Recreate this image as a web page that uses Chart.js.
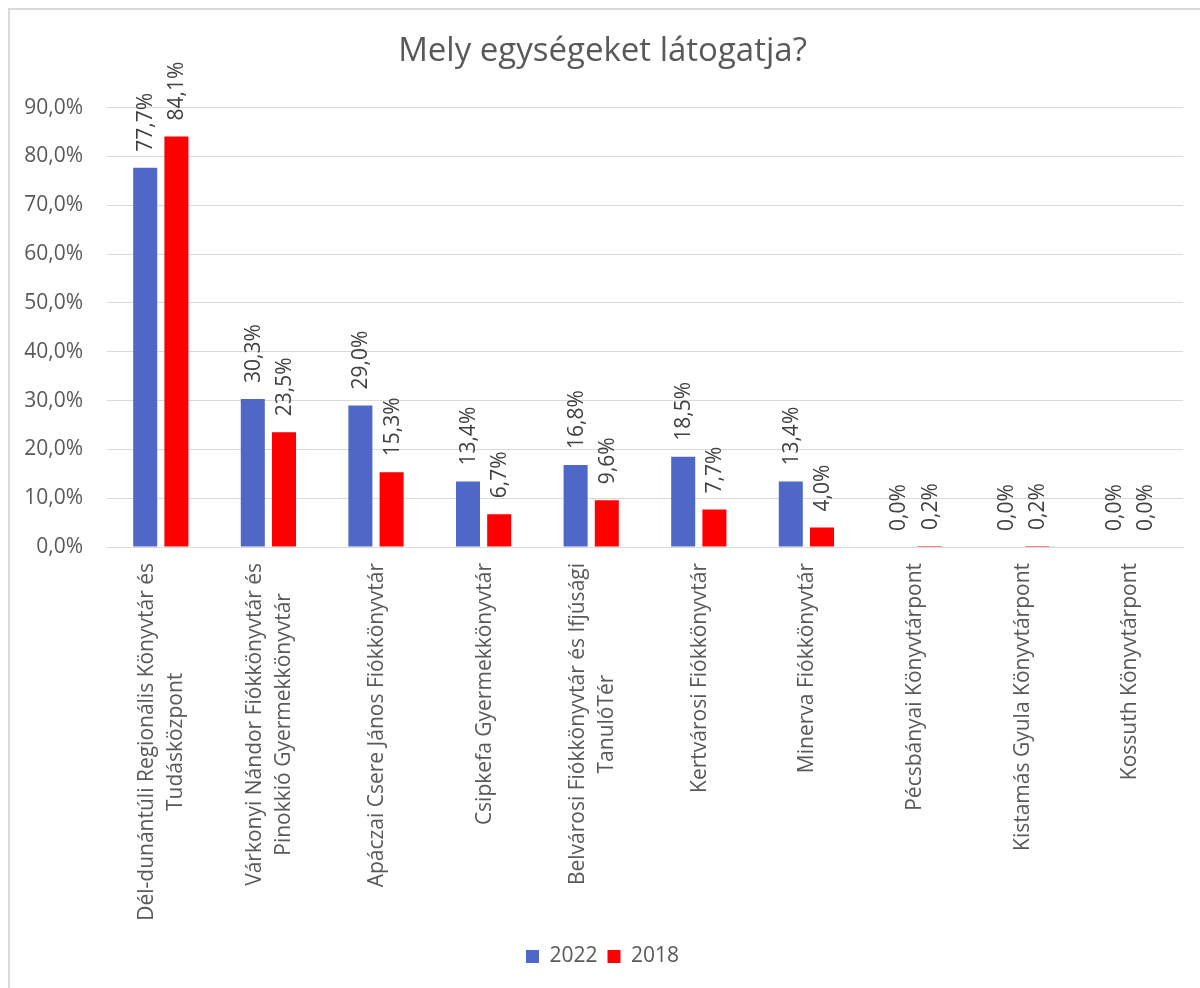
<!DOCTYPE html>
<html>
<head>
<meta charset="utf-8">
<script src="https://cdn.jsdelivr.net/npm/chart.js@4"></script>
<style>
  html, body { margin: 0; padding: 0; background: #fff; overflow: hidden; }
  #frame {
    position: absolute; left: 8px; top: 8px; width: 1300px; height: 1100px;
    border-left: 2px solid #dadada; border-top: 2px solid #dadada;
  }
  #wrap { position: absolute; left: 0; top: 0; width: 1200px; height: 988px; }
</style>
</head>
<body>
<div id="frame"></div>
<div id="wrap"><canvas id="chart" width="1200" height="988"></canvas></div>
<script>
const categories = [
  ["Dél-dunántúli Regionális Könyvtár és", "Tudásközpont"],
  ["Várkonyi Nándor Fiókkönyvtár és", "Pinokkió Gyermekkönyvtár"],
  ["Apáczai Csere János Fiókkönyvtár"],
  ["Csipkefa Gyermekkönyvtár"],
  ["Belvárosi Fiókkönyvtár és Ifjúsági", "TanulóTér"],
  ["Kertvárosi Fiókkönyvtár"],
  ["Minerva Fiókkönyvtár"],
  ["Pécsbányai Könyvtárpont"],
  ["Kistamás Gyula Könyvtárpont"],
  ["Kossuth Könyvtárpont"],
];

const values2022 = [77.7, 30.3, 29.0, 13.4, 16.8, 18.5, 13.4, 0.0, 0.0, 0.0];
const values2018 = [84.1, 23.5, 15.3, 6.7, 9.6, 7.7, 4.0, 0.2, 0.2, 0.0];

const FONT = "'Open Sans', sans-serif";
const fmt = (v) => v.toFixed(1).replace(".", ",") + "%";

// value labels above bars, rotated
const barLabels = {
  id: "barLabels",
  afterDatasetsDraw(chart) {
    const ctx = chart.ctx;
    ctx.save();
    ctx.font = "21px " + FONT;
    ctx.fillStyle = "#404040";
    ctx.textAlign = "left";
    ctx.textBaseline = "middle";
    chart.data.datasets.forEach((ds, di) => {
      const meta = chart.getDatasetMeta(di);
      meta.data.forEach((bar, i) => {
        ctx.save();
        ctx.translate(bar.x + 1, bar.y - 16);
        ctx.rotate(-Math.PI / 2);
        ctx.fillText(fmt(ds.data[i]), 0, 0);
        ctx.restore();
      });
    });
    ctx.restore();
  },
};

// category labels, rotated, lines centred like the original
const catLabels = {
  id: "catLabels",
  afterDraw(chart) {
    const ctx = chart.ctx;
    const x = chart.scales.x;
    const top = chart.chartArea.bottom + 16;
    const lineGap = 29;
    ctx.save();
    ctx.font = "21px " + FONT;
    ctx.fillStyle = "#595959";
    ctx.textAlign = "center";
    ctx.textBaseline = "middle";
    categories.forEach((lines, i) => {
      const px = x.getPixelForTick(i);
      const maxW = Math.max(...lines.map((l) => ctx.measureText(l).width));
      lines.forEach((l, j) => {
        ctx.save();
        ctx.translate(px + 1 + (j - (lines.length - 1) / 2) * lineGap, top + maxW / 2);
        ctx.rotate(-Math.PI / 2);
        ctx.fillText(l, 0, 0);
        ctx.restore();
      });
    });
    ctx.restore();
  },
};

const chart = new Chart(document.getElementById("chart"), {
  type: "bar",
  data: {
    labels: categories,
    datasets: [
      {
        label: "2022",
        data: values2022,
        backgroundColor: "#4f68c7",
        barPercentage: 0.77,
        categoryPercentage: 0.58,
      },
      {
        label: "2018",
        data: values2018,
        backgroundColor: "#ff0000",
        barPercentage: 0.77,
        categoryPercentage: 0.58,
      },
    ],
  },
  plugins: [barLabels, catLabels],
  options: {
    responsive: false,
    animation: false,
    events: [],
    layout: { padding: { top: 10, left: 22, right: 17, bottom: 11 } },
    plugins: {
      title: {
        display: true,
        text: "Mely egységeket látogatja?",
        color: "#595959",
        font: { family: FONT, size: 33, weight: "normal" },
        padding: { top: 22, bottom: 36 },
      },
      legend: {
        position: "bottom",
        labels: {
          color: "#595959",
          font: { family: FONT, size: 21 },
          boxWidth: 13,
          boxHeight: 13,
          padding: 10,
        },
      },
      tooltip: { enabled: false },
    },
    scales: {
      x: {
        grid: { display: false },
        border: { color: "#d9d9d9" },
        ticks: { display: false },
        afterFit: (s) => { s.height = 389; },
      },
      y: {
        min: 0,
        max: 90,
        ticks: {
          stepSize: 10,
          color: "#595959",
          font: { family: FONT, size: 21 },
          padding: 24,
          callback: (v) => fmt(v),
        },
        grid: { color: "#d9d9d9", drawTicks: false },
        border: { display: false },
        afterFit: (s) => { s.width = 85; },
      },
    },
  },
});
</script>
</body>
</html>
